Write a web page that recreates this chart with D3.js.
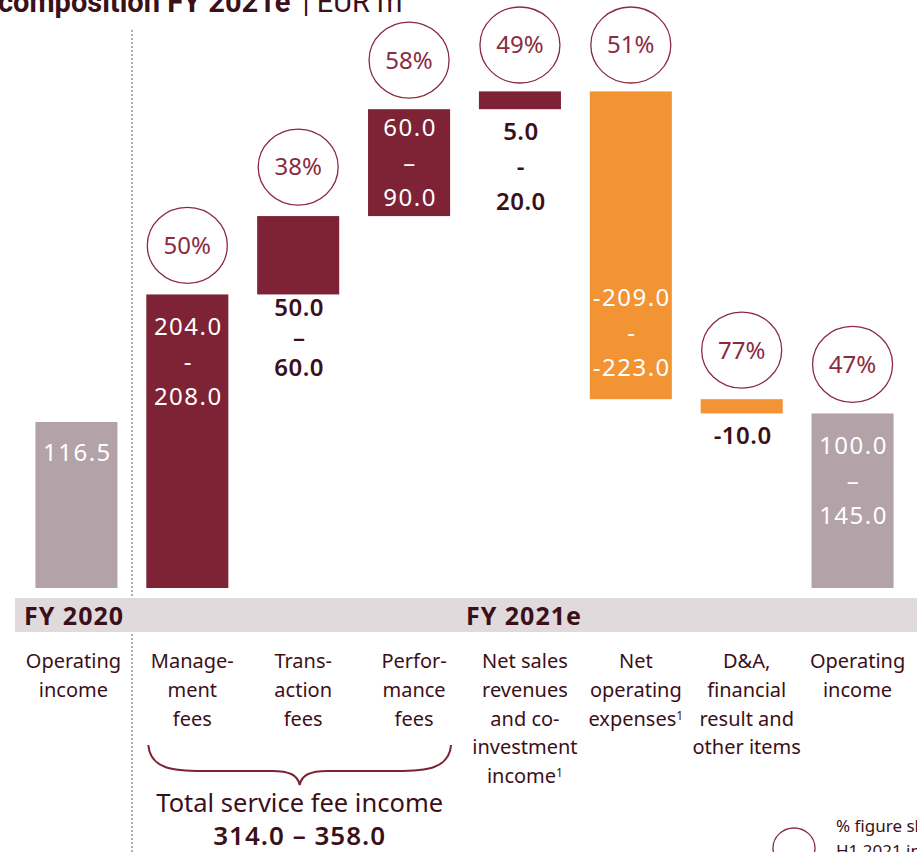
<!DOCTYPE html>
<html>
<head>
<meta charset="utf-8">
<script src="https://cdn.jsdelivr.net/npm/d3@7"></script>
<style>
  html, body { margin: 0; padding: 0; background: #fff; }
  svg { display: block; font-family: "Noto Sans", sans-serif; }
</style>
</head>
<body>
<div id="chart"></div>
<script>
// Operating income composition FY 2021e, EUR m
const categories = ["op2020", "mgmt", "trans", "perf", "sales", "opex", "da", "op2021"];
const categoryLines = [
    ["Operating", "income"],
    ["Manage-", "ment", "fees"],
    ["Trans-", "action", "fees"],
    ["Perfor-", "mance", "fees"],
    ["Net sales", "revenues", "and co-", "investment", "income¹"],
    ["Net", "operating", "expenses¹"],
    ["D&A,", "financial", "result and", "other items"],
    ["Operating", "income"]
];
const lowValues  = [116.5, 204.0, 50.0, 60.0, 5.0, -209.0, -10.0, 100.0];
const highValues = [null, 208.0, 60.0, 90.0, 20.0, -223.0, null, 145.0];
const separators = [null, "-", "–", "–", "-", "-", null, "–"];
const kinds = ["total", "start", "step", "step", "step", "step", "step", "total"];
const percents = [null, "50%", "38%", "58%", "49%", "51%", "77%", "47%"];
const periods = [{ label: "FY 2020", from: 0, to: 0 }, { label: "FY 2021e", from: 1, to: 7 }];
const serviceFeeTotal = "314.0 – 358.0";

const W = 917, H = 852;
const colDark = "#7e2335", colOrange = "#f29433", colGrey = "#b3a3a8";
const colText = "#3b1019", colPct = "#8a2b40";

const svg = d3.select("#chart").append("svg")
    .attr("width", W).attr("height", H);

// build waterfall from midpoints of the ranges
const mid = lowValues.map((v, i) => highValues[i] == null ? v : (v + highValues[i]) / 2);
let run = 0;
const bars = categories.map((c, i) => {
    let y0, y1;
    if (kinds[i] === "total") {
        y0 = 0;
        y1 = i === 0 ? mid[i] : run;
    } else if (kinds[i] === "start") {
        y0 = 0; y1 = mid[i]; run = mid[i];
    } else {
        y0 = run; y1 = run + mid[i]; run = y1;
    }
    const color = kinds[i] === "total" ? colGrey : (mid[i] < 0 ? colOrange : colDark);
    return { key: c, i, y0, y1, color, neg: mid[i] < 0 };
});

const x = d3.scaleBand().domain(categories).range([21, 908])
    .paddingInner(0.26).paddingOuter(0.13);
const y = d3.scaleLinear().domain([0, 400]).range([588, 18]);

// title (cropped at top, as in the source)
const title = svg.append("text").attr("x", -2).attr("y", 12)
    .attr("fill", colText).style("font-family", "Roboto, sans-serif").style("font-size", "29px");
title.append("tspan").attr("font-weight", 700).text("composition FY 2021e");
title.append("tspan").attr("dx", 12).attr("font-weight", 400).text("| EUR m");

// dotted divider
svg.append("line")
    .attr("x1", 132).attr("x2", 132).attr("y1", 30).attr("y2", H)
    .attr("stroke", "#b9aaae").attr("stroke-width", 2).attr("stroke-dasharray", "2,2");

// bars
svg.selectAll("rect.bar").data(bars).join("rect")
    .attr("class", "bar")
    .attr("x", d => x(d.key))
    .attr("width", x.bandwidth())
    .attr("y", d => y(Math.max(d.y0, d.y1)))
    .attr("height", d => Math.abs(y(d.y0) - y(d.y1)))
    .attr("fill", d => d.color);

// value labels
bars.forEach(d => {
    const i = d.i;
    const top = y(Math.max(d.y0, d.y1)), bottom = y(Math.min(d.y0, d.y1));
    const lines = highValues[i] == null ? [lowValues[i].toFixed(1)]
        : [lowValues[i].toFixed(1), separators[i], highValues[i].toFixed(1)];
    const h = bottom - top;
    const inside = h > 90 || (lines.length === 1 && h > 40);
    let c0, gap = 35;
    if (inside) {
        const span = (lines.length - 1) * gap;
        const midY = (top + bottom) / 2;
        const centre = d.neg ? Math.max(midY, bottom - 67) : Math.min(midY, top + (lines.length === 1 ? 31 : 67));
        c0 = centre - span / 2;
    } else {
        // taller bars sit lower in the stack, their outside label is packed tighter
        const tight = h > 50;
        gap = tight ? 30 : 35;
        c0 = bottom + (tight ? 13 : 22);
    }
    const cx = x(d.key) + x.bandwidth() / 2;
    svg.append("g").selectAll("text").data(lines).join("text")
        .attr("x", cx + 1)
        .attr("y", (t, k) => c0 + k * gap)
        .attr("dy", "0.35em")
        .attr("text-anchor", "middle")
        .attr("fill", inside ? "#fff" : colText)
        .attr("font-weight", inside ? 400 : 600)
        .style("letter-spacing", inside ? "1.5px" : "0.5px")
        .style("font-size", "24px")
        .text(t => t);

    // percentage bubble
    if (percents[i]) {
        const cy = Math.max(45, top - 49);
        svg.append("ellipse")
            .attr("cx", cx).attr("cy", cy).attr("rx", 40).attr("ry", 38)
            .attr("fill", "none").attr("stroke", colPct).attr("stroke-width", 1.3);
        svg.append("text")
            .attr("x", cx).attr("y", cy).attr("dy", "0.35em")
            .attr("text-anchor", "middle").attr("fill", colPct)
            .style("font-size", "24px").text(percents[i]);
    }
});

// period band
svg.append("rect").attr("x", 15).attr("y", 598).attr("width", W - 15).attr("height", 34)
    .attr("fill", "#e0dadc");
periods.forEach(p => {
    const a = x(categories[p.from]), b = x(categories[p.to]) + x.bandwidth();
    svg.append("text")
        .attr("x", p.from === 0 ? 74 : (a + b) / 2 + 4).attr("y", 616).attr("dy", "0.35em")
        .attr("text-anchor", "middle").attr("fill", colText)
        .attr("font-weight", 700).style("font-size", "25px").style("letter-spacing", "1px")
        .text(p.label);
});

// category labels
categories.forEach((c, i) => {
    const cx = x(c) + x.bandwidth() / 2 + (i === 0 ? -3 : 5);
    svg.append("g").selectAll("text").data(categoryLines[i]).join("text")
        .attr("x", cx)
        .attr("y", (t, k) => 661 + k * 28.8)
        .attr("dy", "0.35em")
        .attr("text-anchor", "middle")
        .attr("fill", colText)
        .style("font-size", "20px")
        .each(function(t) {
            const sel = d3.select(this);
            if (t.endsWith("¹")) {
                sel.append("tspan").text(t.slice(0, -1));
                sel.append("tspan").attr("dy", "-0.5em").style("font-size", "12px").text("1");
            } else {
                sel.text(t);
            }
        });
});

// brace under service fees
const bx0 = x("mgmt") + 2, bx1 = x("perf") + x.bandwidth() + 1, bm = (bx0 + bx1) / 2;
const braceTop = 745, braceMid = 771, braceTip = 785;
svg.append("path")
    .attr("d", `M${bx0},${braceTop} C${bx0 + 2},${braceMid - 2} ${bx0 + 25},${braceMid} ${bx0 + 55},${braceMid}
        L${bm - 28},${braceMid} C${bm - 10},${braceMid} ${bm - 2},${braceMid + 4} ${bm},${braceTip}
        C${bm + 2},${braceMid + 4} ${bm + 10},${braceMid} ${bm + 28},${braceMid}
        L${bx1 - 55},${braceMid} C${bx1 - 25},${braceMid} ${bx1 - 2},${braceMid - 2} ${bx1},${braceTop}`)
    .attr("fill", "none").attr("stroke", colDark).attr("stroke-width", 2);
svg.append("text").attr("x", bm).attr("y", 803).attr("dy", "0.35em")
    .attr("text-anchor", "middle").attr("fill", colText).style("font-size", "25.5px")
    .text("Total service fee income");
svg.append("text").attr("x", bm).attr("y", 836).attr("dy", "0.35em")
    .attr("text-anchor", "middle").attr("fill", colText).attr("font-weight", 600)
    .style("font-size", "26px").style("letter-spacing", "1px")
    .text(serviceFeeTotal);

// legend (cropped at bottom right, as in the source)
svg.append("ellipse").attr("cx", 794).attr("cy", 848).attr("rx", 21).attr("ry", 20)
    .attr("fill", "none").attr("stroke", colPct).attr("stroke-width", 1.3);
svg.append("text").attr("x", 836).attr("y", 832).attr("fill", colText)
    .style("font-size", "17px").text("% figure shows");
svg.append("text").attr("x", 836).attr("y", 857).attr("fill", colText)
    .style("font-size", "17px").text("H1 2021 in % of FY");
</script>
</body>
</html>
